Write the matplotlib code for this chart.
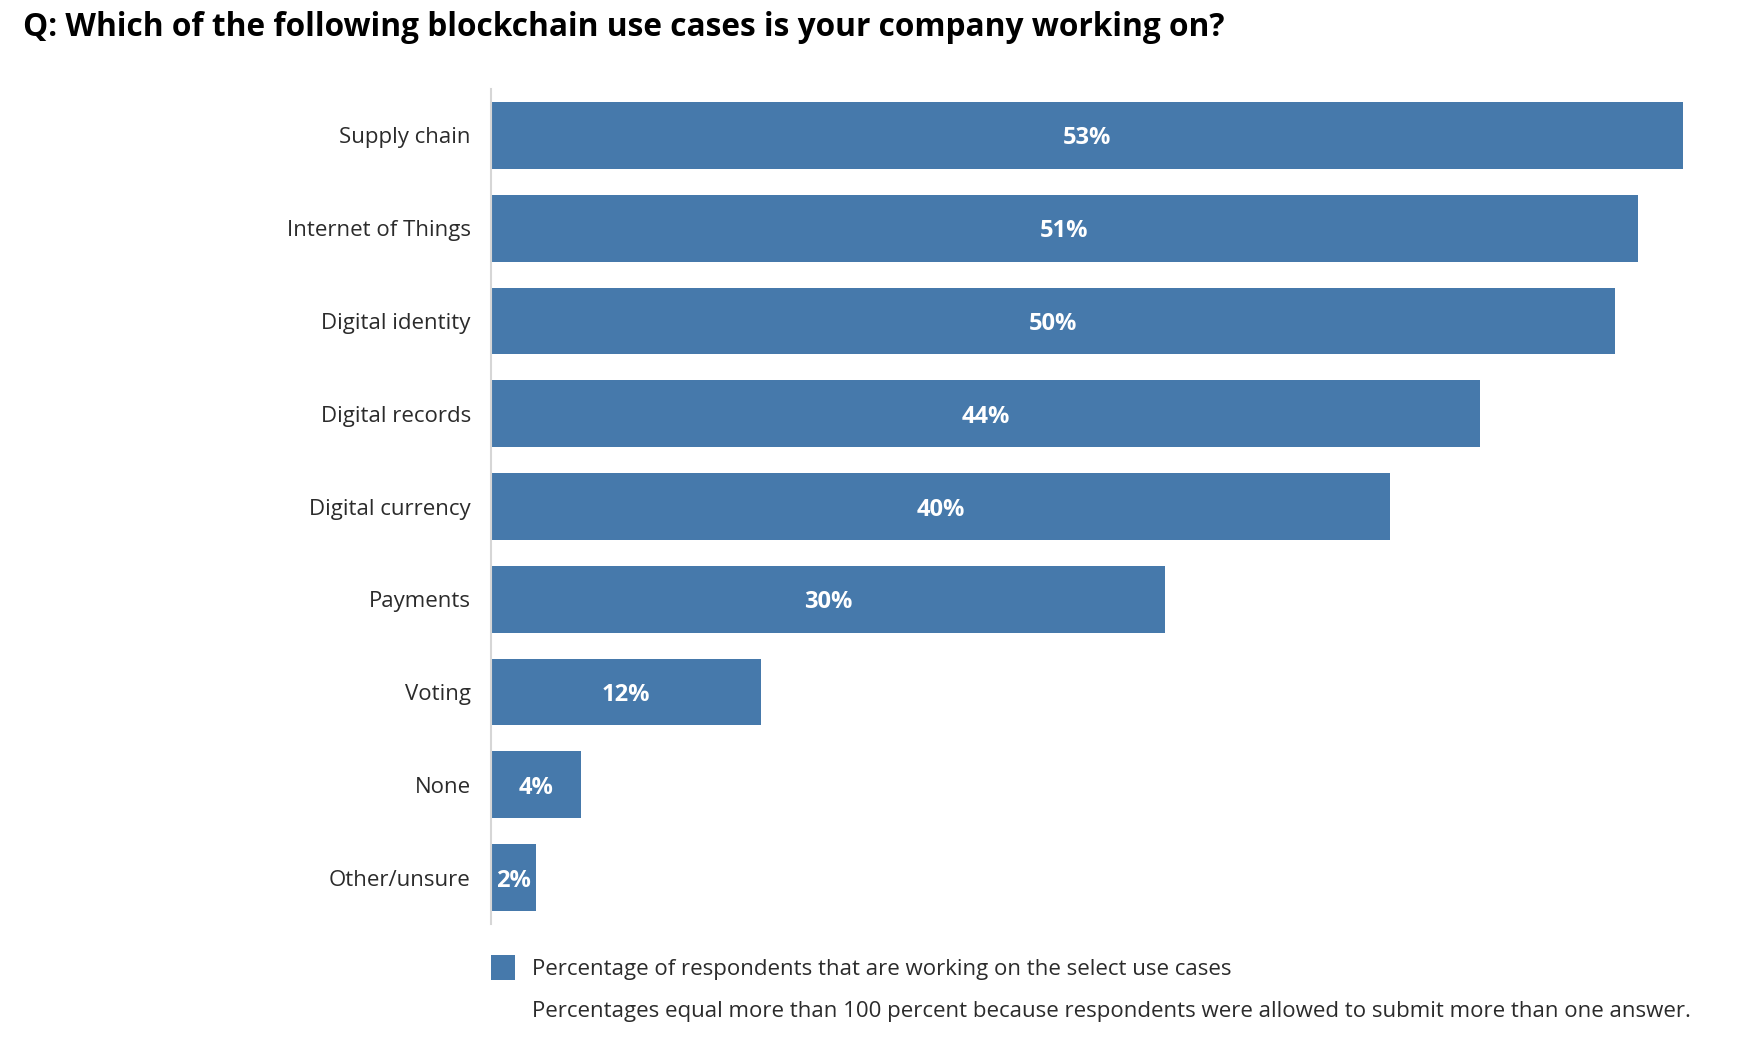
import matplotlib
matplotlib.use("Agg")
import matplotlib.pyplot as plt
from matplotlib.patches import Rectangle

categories = ["Supply chain", "Internet of Things", "Digital identity", "Digital records",
              "Digital currency", "Payments", "Voting", "None", "Other/unsure"]
values = [53, 51, 50, 44, 40, 30, 12, 4, 2]
value_labels = ["53%", "51%", "50%", "44%", "40%", "30%", "12%", "4%", "2%"]

title = "Q: Which of the following blockchain use cases is your company working on?"
legend_label = "Percentage of respondents that are working on the select use cases"
footnote = "Percentages equal more than 100 percent because respondents were allowed to submit more than one answer."

BAR = "#4679AB"
plt.rcParams['font.family'] = ['Open Sans', 'DejaVu Sans']

W, H = 1754, 1040
fig = plt.figure(figsize=(W / 100, H / 100), dpi=100)
ax = fig.add_axes([491 / W, 1 - 924 / H, 1259 / W, (924 - 89) / H])

y = list(range(len(categories)))
ax.barh(y, values, height=0.72, color=BAR, edgecolor="none")
ax.set_ylim(len(categories) - 0.5, -0.5)
ax.set_xlim(0, 56)

for yi, v, lab in zip(y, values, value_labels):
    ax.text(v / 2, yi, lab, ha="center", va="center_baseline", color="white",
            fontsize=17, fontweight="bold")

ax.set_yticks(y)
ax.set_yticklabels(categories, fontsize=16, color="#2b2b2b", va="center_baseline")
ax.tick_params(axis="y", length=0, pad=14.5)
ax.set_xticks([])
for s in ["top", "right", "bottom"]:
    ax.spines[s].set_visible(False)
ax.spines["left"].set_color("#d6d6d6")
ax.spines["left"].set_linewidth(1.5)

fig.text(23 / W, 1 - 28 / H, title, ha="left", va="center", fontsize=22.8,
         fontweight="bold", color="black")

fig.patches.append(Rectangle((491 / W, 1 - 980 / H), 24 / W, 25 / H,
                             transform=fig.transFigure, facecolor=BAR, edgecolor="none"))
fig.text(532 / W, 1 - 970 / H, legend_label, ha="left", va="center", fontsize=16, color="#2b2b2b")
fig.text(532 / W, 1 - 1011 / H, footnote, ha="left", va="center", fontsize=16, color="#2b2b2b")

fig.savefig("out.png", dpi=100, facecolor="white")
